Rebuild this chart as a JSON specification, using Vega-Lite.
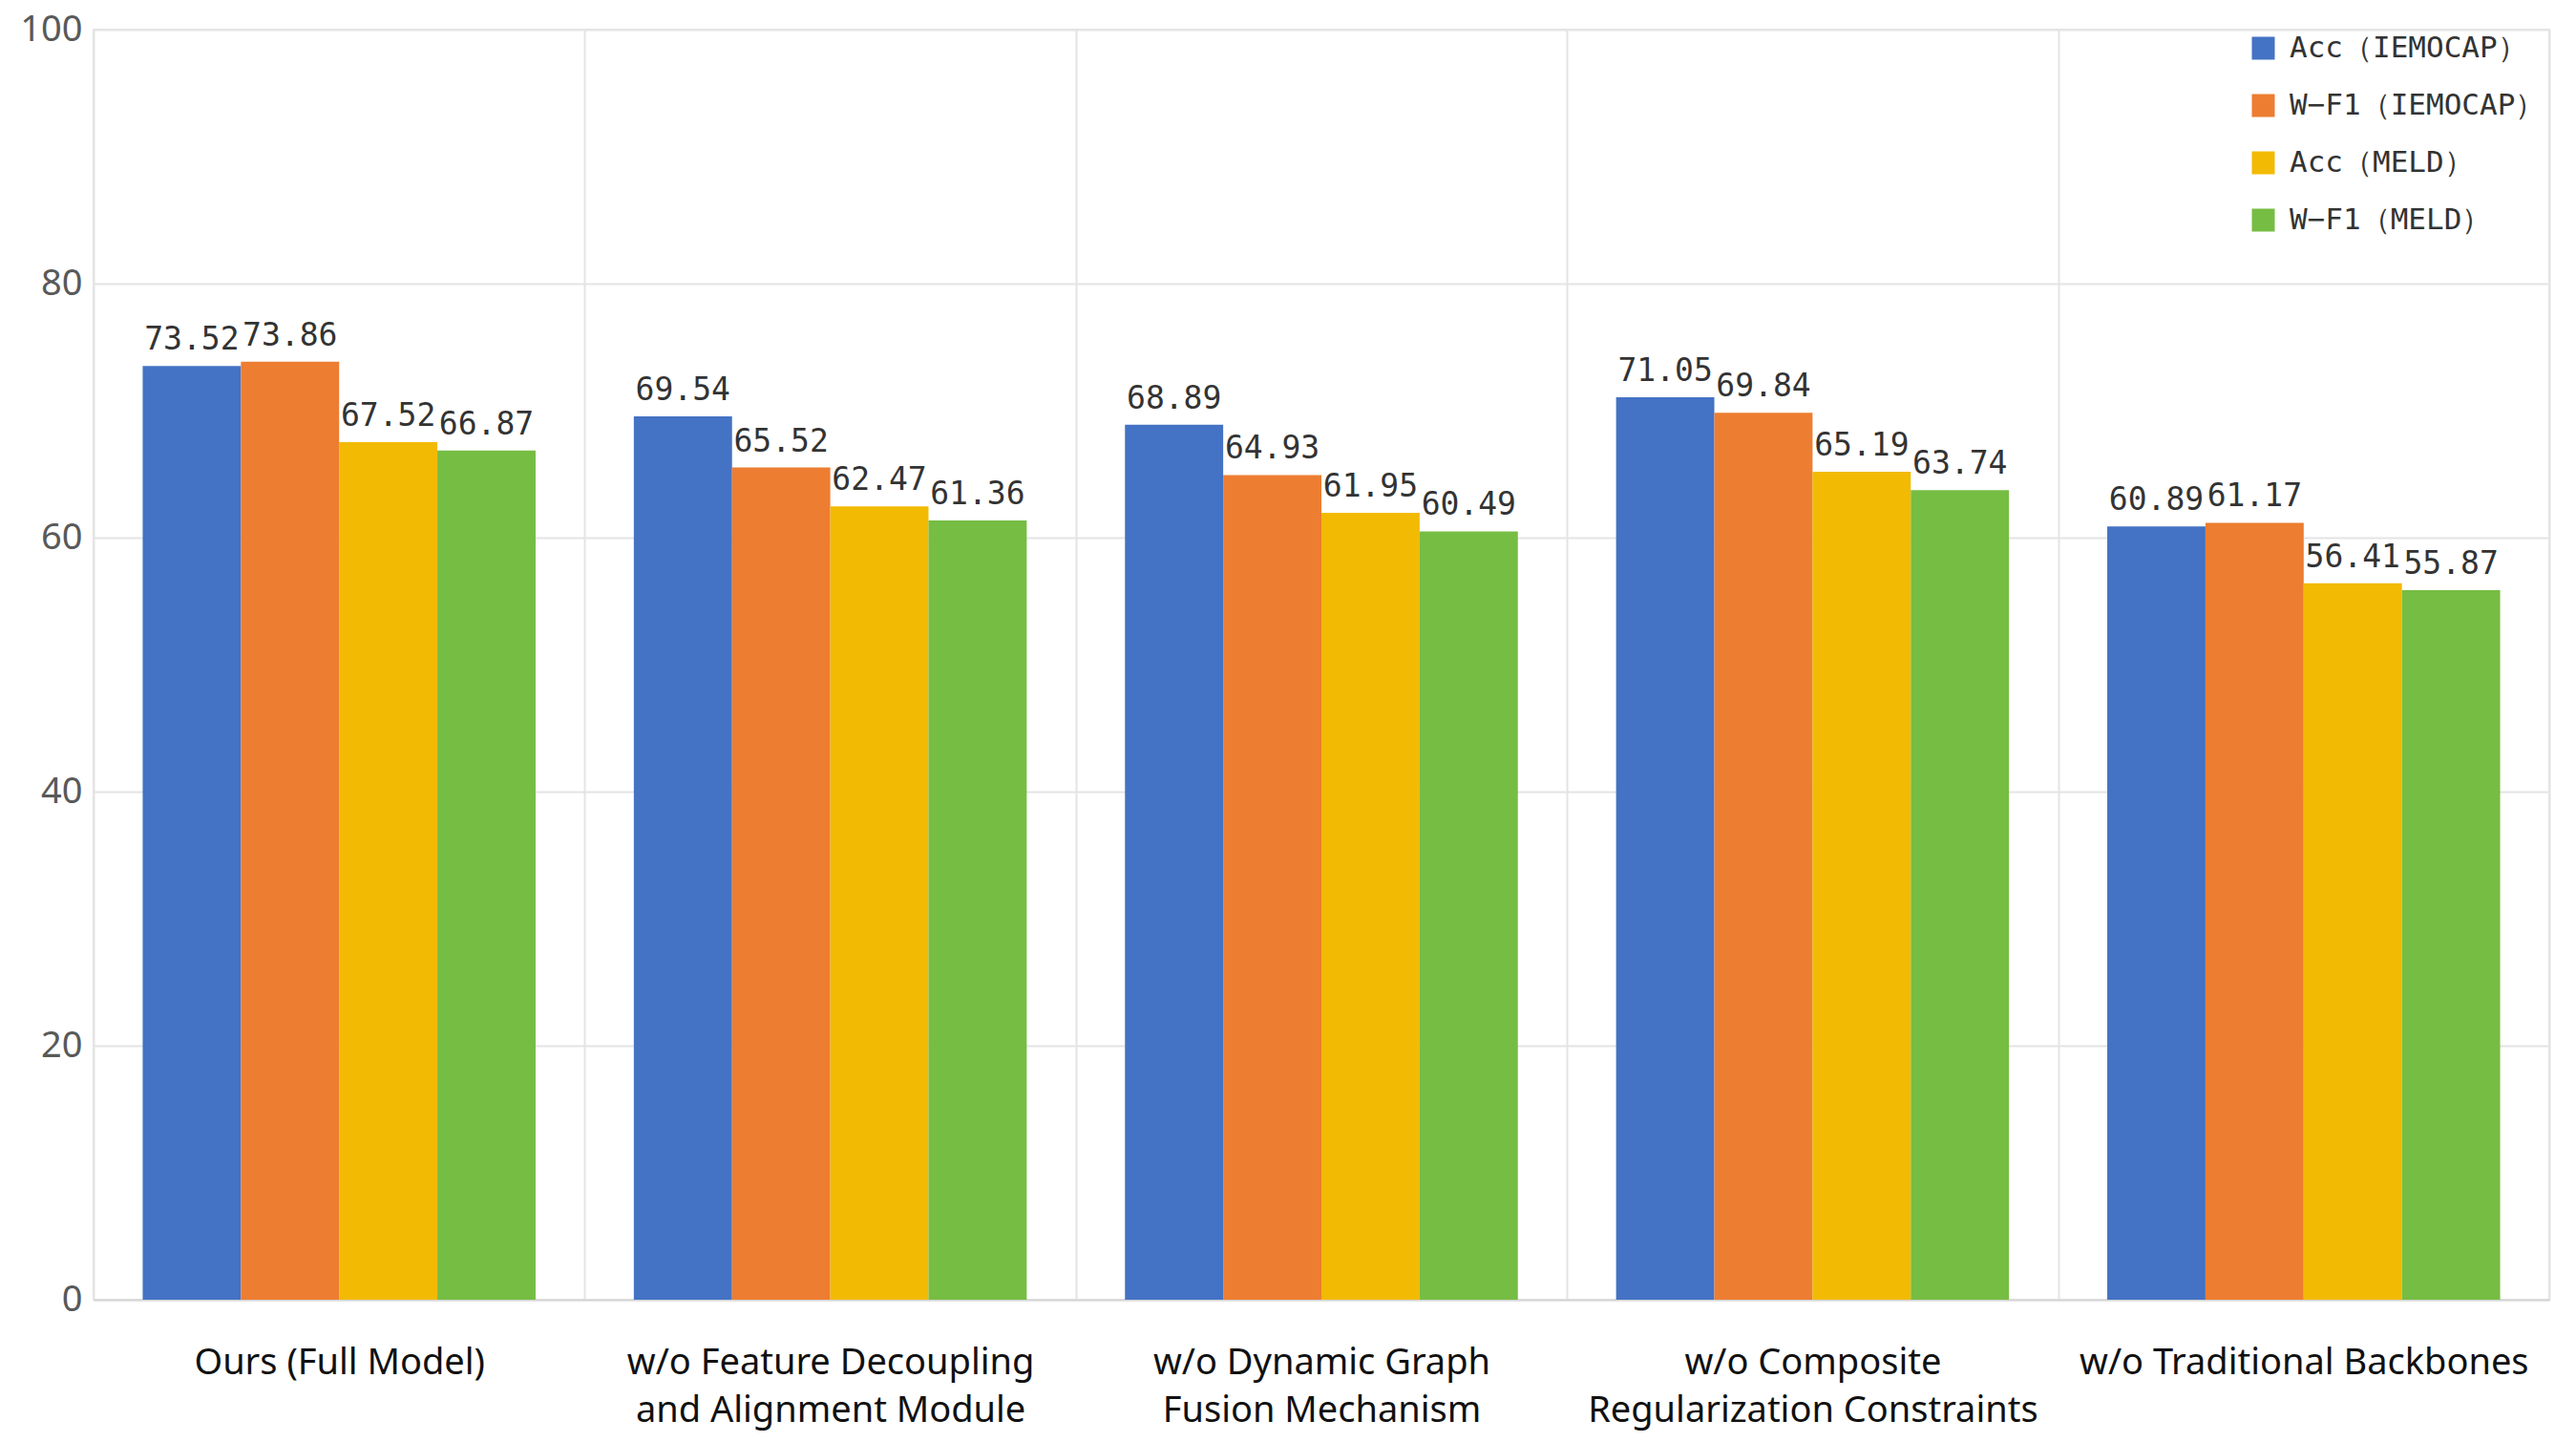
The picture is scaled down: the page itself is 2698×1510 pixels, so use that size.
{
  "$schema": "https://vega.github.io/schema/vega-lite/v6.json",
  "width": 2572,
  "height": 1330,
  "autosize": {"type": "none"},
  "padding": {"left": 98, "top": 31, "right": 28, "bottom": 149},
  "background": "white",
  "data": {
    "values": [
      {"config": "Ours (Full Model)", "metric": "Acc（IEMOCAP）", "value": 73.52},
      {"config": "Ours (Full Model)", "metric": "W−F1（IEMOCAP）", "value": 73.86},
      {"config": "Ours (Full Model)", "metric": "Acc（MELD）", "value": 67.52},
      {"config": "Ours (Full Model)", "metric": "W−F1（MELD）", "value": 66.87},
      {"config": "w/o Feature Decoupling and Alignment Module", "metric": "Acc（IEMOCAP）", "value": 69.54},
      {"config": "w/o Feature Decoupling and Alignment Module", "metric": "W−F1（IEMOCAP）", "value": 65.52},
      {"config": "w/o Feature Decoupling and Alignment Module", "metric": "Acc（MELD）", "value": 62.47},
      {"config": "w/o Feature Decoupling and Alignment Module", "metric": "W−F1（MELD）", "value": 61.36},
      {"config": "w/o Dynamic Graph Fusion Mechanism", "metric": "Acc（IEMOCAP）", "value": 68.89},
      {"config": "w/o Dynamic Graph Fusion Mechanism", "metric": "W−F1（IEMOCAP）", "value": 64.93},
      {"config": "w/o Dynamic Graph Fusion Mechanism", "metric": "Acc（MELD）", "value": 61.95},
      {"config": "w/o Dynamic Graph Fusion Mechanism", "metric": "W−F1（MELD）", "value": 60.49},
      {"config": "w/o Composite Regularization Constraints", "metric": "Acc（IEMOCAP）", "value": 71.05},
      {"config": "w/o Composite Regularization Constraints", "metric": "W−F1（IEMOCAP）", "value": 69.84},
      {"config": "w/o Composite Regularization Constraints", "metric": "Acc（MELD）", "value": 65.19},
      {"config": "w/o Composite Regularization Constraints", "metric": "W−F1（MELD）", "value": 63.74},
      {"config": "w/o Traditional Backbones", "metric": "Acc（IEMOCAP）", "value": 60.89},
      {"config": "w/o Traditional Backbones", "metric": "W−F1（IEMOCAP）", "value": 61.17},
      {"config": "w/o Traditional Backbones", "metric": "Acc（MELD）", "value": 56.41},
      {"config": "w/o Traditional Backbones", "metric": "W−F1（MELD）", "value": 55.87}
    ]
  },
  "encoding": {
    "x": {
      "field": "config",
      "type": "nominal",
      "sort": null,
      "scale": {"paddingInner": 0, "paddingOuter": 0},
      "axis": {
        "title": null,
        "labelAngle": 0,
        "tickBand": "extent",
        "grid": true,
        "gridColor": "#e4e4e4",
        "gridWidth": 2,
        "ticks": false,
        "domainColor": "#d6d6d6",
        "domainWidth": 2,
        "labelFont": "Noto Sans",
        "labelFontSize": 38,
        "labelColor": "#111111",
        "labelBaseline": "middle",
        "labelPadding": 66,
        "labelLineHeight": 50,
        "labelLimit": 0,
        "labelExpr": "datum.value == 'w/o Feature Decoupling and Alignment Module' ? ['w/o Feature Decoupling', 'and Alignment Module'] : datum.value == 'w/o Dynamic Graph Fusion Mechanism' ? ['w/o Dynamic Graph', 'Fusion Mechanism'] : datum.value == 'w/o Composite Regularization Constraints' ? ['w/o Composite', 'Regularization Constraints'] : datum.value"
      }
    },
    "xOffset": {
      "field": "metric",
      "type": "nominal",
      "sort": null,
      "scale": {"paddingInner": 0, "paddingOuter": 0.5}
    },
    "y": {
      "field": "value",
      "type": "quantitative",
      "scale": {"domain": [0, 100]},
      "axis": {
        "title": null,
        "values": [0, 20, 40, 60, 80, 100],
        "grid": true,
        "gridColor": "#e4e4e4",
        "gridWidth": 2,
        "ticks": false,
        "domain": false,
        "labelFont": "Noto Sans",
        "labelFontSize": 38,
        "labelColor": "#595959",
        "labelPadding": 12
      }
    }
  },
  "layer": [
    {
      "mark": {"type": "bar"},
      "encoding": {
        "color": {
          "field": "metric",
          "type": "nominal",
          "sort": null,
          "scale": {"range": ["#4472C4", "#ED7D31", "#F2BA02", "#76BD43"]},
          "legend": {
            "title": null,
            "orient": "top-right",
            "offset": 0,
            "symbolType": "square",
            "symbolSize": 576,
            "symbolStrokeWidth": 0,
            "symbolOpacity": 1,
            "labelFont": "DejaVu Sans Mono",
            "labelFontSize": 31,
            "labelColor": "#333333",
            "labelLimit": 0,
            "rowPadding": 28,
            "labelOffset": 12,
            "padding": 4
          }
        }
      }
    },
    {
      "mark": {
        "type": "text",
        "baseline": "bottom",
        "dy": -10,
        "font": "DejaVu Sans Mono",
        "fontSize": 33,
        "color": "#333333"
      },
      "encoding": {
        "text": {"field": "value", "type": "quantitative", "format": ".2f"}
      }
    }
  ],
  "config": {
    "view": {"stroke": "#e4e4e4", "strokeWidth": 2}
  }
}
